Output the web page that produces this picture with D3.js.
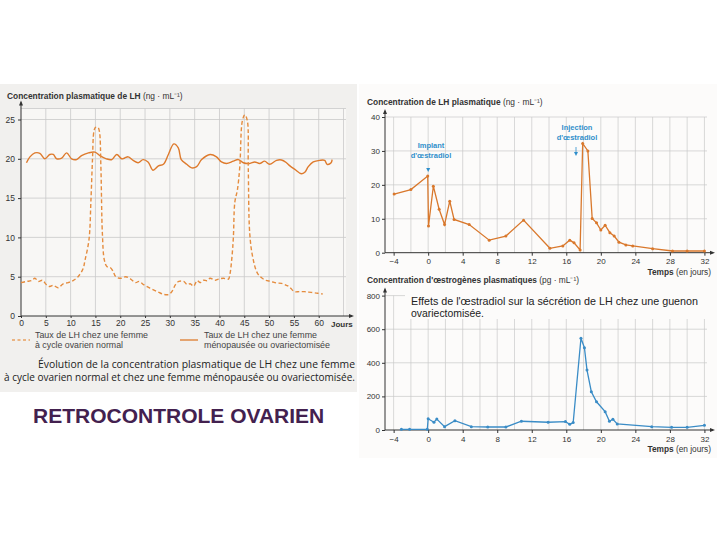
<!DOCTYPE html>
<html><head><meta charset="utf-8">
<script src="https://cdn.jsdelivr.net/npm/d3@7/dist/d3.min.js"></script>
<style>body{margin:0;background:#fff}svg{display:block}</style>
</head><body>
<svg id="c" width="720" height="540"></svg>
<script>
// ---------- DATA ----------
// Left chart: LH (ng/mL) in a woman with a normal ovarian cycle (dashed)
const cycleDays = [0,1.1,2.1,2.8,3.5,4.3,5.1,5.8,6.5,7.5,8.5,9.5,10.5,11.5,12.5,12.9,13.7,14.1,14.4,14.7,15.0,15.5,15.8,16.1,16.4,16.8,17.3,17.9,18.5,19.1,20.1,21.1,22.1,23.1,23.8,24.8,25.8,26.8,27.8,28.8,29.8,30.5,31.1,31.8,32.8,33.5,34.1,34.8,35.5,36.1,36.8,37.5,38.1,39.1,39.8,40.8,41.8,42.1,42.5,42.8,43.1,43.6,44.1,44.6,45.1,45.6,45.8,46.1,46.7,47.7,49.1,50.4,51.5,52.5,53.5,54.1,55.1,56.1,57.1,58.5,59.8,60.8];
const cycleLH   = [4.25,4.4,4.5,4.8,4.4,4.55,4.0,3.75,3.9,3.6,4.1,4.25,4.5,5.0,6.0,7.1,9.7,14.8,19.8,23.5,24.0,24.0,23.5,19.0,10.5,7.1,6.3,6.2,5.75,5.0,4.8,5.0,4.7,4.25,4.4,3.95,3.6,3.3,3.0,2.75,2.75,3.2,3.95,4.4,4.4,4.0,4.1,3.8,4.5,4.25,4.55,4.5,4.8,4.55,4.7,4.8,4.7,5.3,7.4,10.0,14.5,16.0,19.0,24.8,25.6,24.9,19.0,10.5,7.5,5.4,4.6,4.4,4.2,4.15,3.9,3.7,3.1,3.1,3.1,3.0,2.9,2.8];
// Left chart: LH (ng/mL) in a menopausal / ovariectomised woman (solid)
const menoDays = [1.1,1.8,2.8,3.8,4.8,5.8,6.5,7.2,8.2,9.2,10.2,11.2,12.2,13.6,14.9,15.9,17.2,18.3,19.3,20.3,20.9,21.6,22.6,23.6,24.6,25.6,26.6,27.7,28.7,29.7,30.8,31.7,32.3,33.4,34.4,35.4,36.4,38.1,39.4,40.4,41.4,42.8,43.8,44.8,46.1,47.1,48.1,49.1,50.1,51.5,52.5,53.5,54.2,55.2,56.5,57.2,57.9,58.9,60.2,61.2,61.7,62.5,62.7];
const menoLH   = [19.5,20.25,20.75,20.7,20.0,20.55,20.55,20.0,20.1,20.75,20.0,19.9,20.4,20.75,20.85,20.4,20.0,19.9,20.55,20.0,20.1,20.25,19.8,19.5,19.9,19.6,18.55,19.1,19.3,20.55,21.9,21.4,19.9,19.3,18.85,19.0,19.9,20.55,20.25,19.6,19.4,19.7,19.9,19.5,19.4,19.6,19.4,19.7,19.3,19.8,19.85,19.5,19.1,18.65,18.1,18.3,19.0,19.6,19.8,19.8,19.3,19.5,19.9];
const leftXTicks = [0,5,10,15,20,25,30,35,40,45,50,55,60];
const leftYTicks = [0,5,10,15,20,25];

// Right top: LH (ng/mL) in an ovariectomised female monkey
const monkeyDays = [-3.94,-2,-0.05,0.04,0.6,1.27,1.9,2.5,3.0,4.75,7.07,9.0,11.05,14.1,15.6,16.4,16.9,17.6,17.9,18.5,19.0,19.5,20.0,20.5,21.05,21.55,22.1,22.9,23.7,26.0,28.3,30.0,32.0];
const monkeyLH   = [17.3,18.6,22.6,7.9,19.6,12.8,8.3,15.2,9.8,8.3,3.7,4.9,9.6,1.3,2.0,3.7,2.9,0.8,32.2,30.0,10.1,8.8,6.7,8.1,5.9,4.9,3.1,2.3,2.0,1.2,0.5,0.5,0.5];
// Right bottom: plasma oestrogens (pg/mL)
const estroDays   = [-3.1,-2.15,-0.1,0.0,0.67,1.0,1.9,3.1,5.0,6.9,9.0,10.8,13.9,15.9,16.4,16.8,17.7,18.1,18.4,18.9,19.5,20.5,21.0,21.4,21.9,25.9,28.2,30.0,32.0];
const estroValues = [4,4,4,67,46,65,20,55,20,18,18,52,46,50,34,44,546,490,357,228,168,109,52,64,36,20,16,16,28];
const rightXTicks = [-4,0,4,8,12,16,20,24,28,32];
const lhYTicks = [0,10,20,30,40];
const estroYTicks = [0,200,400,600,800];

// ---------- DRAWING ----------
const svg = d3.select('#c');
const FONT = "'Liberation Sans', Arial, sans-serif";
const BODY = "'Open Sans', 'Noto Sans', sans-serif";
const GRID = '#c9c9c9';
const AX = '#333';

// page backgrounds (scanned panels)
svg.append('rect').attr('x',0).attr('y',84).attr('width',357).attr('height',308).attr('fill','#f1f0ee');
svg.append('rect').attr('x',359).attr('y',84).attr('width',358).attr('height',374).attr('fill','#fcfbfa');

function arrowUp(g, x, y){ g.append('path').attr('d',`M${x-2},${y+5}L${x},${y}L${x+2},${y+5}Z`).attr('fill',AX); }
function arrowRight(g, x, y){ g.append('path').attr('d',`M${x-5},${y-2}L${x},${y}L${x-5},${y+2}Z`).attr('fill',AX); }

// ===== LEFT CHART =====
{
  const g = svg.append('g');
  const x = d3.scaleLinear().domain([0,65.5]).range([21,346]);
  const y = d3.scaleLinear().domain([0,26.4]).range([316,108.5]);
  g.append('rect').attr('x',x(0)).attr('y',y(26.4)).attr('width',x(65.5)-x(0)).attr('height',y(0)-y(26.4)).attr('fill','#f8f7f5');
  // grid
  g.selectAll('.vg').data(d3.range(5,66,5)).join('line')
    .attr('x1',d=>x(d)).attr('x2',d=>x(d)).attr('y1',y(0)).attr('y2',y(26.4)).attr('stroke',GRID).attr('stroke-width',0.8);
  g.selectAll('.hg').data([5,10,15,20,25,26.4]).join('line')
    .attr('x1',x(0)).attr('x2',x(65.5)).attr('y1',d=>y(d)).attr('y2',d=>y(d)).attr('stroke',GRID).attr('stroke-width',0.8);
  // axes
  const xa = g.append('g').attr('transform',`translate(0,${y(0)})`)
    .call(d3.axisBottom(x).tickValues(leftXTicks).tickSize(2).tickPadding(2));
  xa.select('.domain').attr('d',`M${x(0)},0H${x(65.5)+6}`).attr('stroke',AX);
  const ya = g.append('g').attr('transform',`translate(${x(0)},0)`)
    .call(d3.axisLeft(y).tickValues(leftYTicks).tickSize(3).tickPadding(3));
  ya.select('.domain').attr('d',`M0,${y(0)}V${y(26.4)-6}`).attr('stroke',AX);
  [xa,ya].forEach(a=>{a.selectAll('text').attr('font-family',FONT).attr('font-size',8.5).attr('fill','#333');a.selectAll('.tick line').attr('stroke',AX);});
  arrowUp(g, x(0), y(26.4)-8);
  arrowRight(g, x(65.5)+8, y(0));
  g.append('text').attr('x',x(65.5)-15).attr('y',y(0)+11).attr('font-family',FONT).attr('font-size',8).attr('font-weight','bold').attr('fill','#333').text('Jours');
  // title
  const t = g.append('text').attr('x',7).attr('y',98.5).attr('font-family',FONT).attr('font-size',8.4).attr('fill','#333');
  t.append('tspan').attr('font-weight','bold').text('Concentration plasmatique de LH');
  t.append('tspan').text(' (ng · mL⁻¹)');
  // series
  const normalData = cycleDays.map((d,i)=>[d,cycleLH[i]]);
  const menoData = menoDays.map((d,i)=>[d,menoLH[i]]);
  const line = d3.line().x(d=>x(d[0])).y(d=>y(d[1])).curve(d3.curveCatmullRom.alpha(0.5));
  g.append('path').attr('d',line(menoData)).attr('fill','none').attr('stroke','#de7a2c').attr('stroke-width',1.4);
  g.append('path').attr('d',line(normalData)).attr('fill','none').attr('stroke','#e58c3e').attr('stroke-width',1.4).attr('stroke-dasharray','4,2.5');
  // legend
  g.append('line').attr('x1',12).attr('x2',30).attr('y1',340).attr('y2',340).attr('stroke','#e8a060').attr('stroke-width',1.3).attr('stroke-dasharray','3,2.5');
  g.append('line').attr('x1',180).attr('x2',198).attr('y1',340).attr('y2',340).attr('stroke','#de7a2c').attr('stroke-width',1.3);
  const lt = [[35,'Taux de LH chez une femme',113,'à cycle ovarien normal',88],[204,'Taux de LH chez une femme',113,'ménopausée ou ovariectomisée',126]];
  lt.forEach(([lx,a,wa,b,wb])=>{
    g.append('text').attr('x',lx).attr('y',338).attr('font-family',FONT).attr('font-size',8.2).attr('fill','#444')
      .attr('textLength',wa).attr('lengthAdjust','spacingAndGlyphs').text(a);
    g.append('text').attr('x',lx).attr('y',347.5).attr('font-family',FONT).attr('font-size',8.2).attr('fill','#444')
      .attr('textLength',wb).attr('lengthAdjust','spacingAndGlyphs').text(b);
  });
  g.append('text').attr('x',355).attr('y',368).attr('text-anchor','end').attr('font-family',BODY).attr('font-size',10.5).attr('fill','#222')
    .attr('textLength',317).attr('lengthAdjust','spacingAndGlyphs').text('Évolution de la concentration plasmatique de LH chez une femme');
  g.append('text').attr('x',355).attr('y',381).attr('text-anchor','end').attr('font-family',BODY).attr('font-size',10.5).attr('fill','#222')
    .attr('textLength',351).attr('lengthAdjust','spacingAndGlyphs').text('à cycle ovarien normal et chez une femme ménopausée ou ovariectomisée.');
}

svg.append('text').attr('x',33).attr('y',423).attr('font-family',"'Liberation Sans', Arial, sans-serif").attr('font-weight','bold')
  .attr('font-size',21).attr('fill','#43214f').text('RETROCONTROLE OVARIEN');

// ===== RIGHT CHARTS =====
const xr = d3.scaleLinear().domain([-5,32.3]).range([385,707]);
function rightChart(yScale, yTicks, top, days, vals, color, titleBold, titleUnit, titleY){
  const g = svg.append('g');
  const y0 = yScale.range()[0], y1 = yScale.range()[1];
  g.selectAll('.vg').data(d3.range(-4,33,2)).join('line')
    .attr('x1',d=>xr(d)).attr('x2',d=>xr(d)).attr('y1',y0).attr('y2',top).attr('stroke',GRID).attr('stroke-width',0.7);
  g.selectAll('.hg').data(yTicks.slice(1)).join('line')
    .attr('x1',xr(-5)).attr('x2',xr(32.3)).attr('y1',d=>yScale(d)).attr('y2',d=>yScale(d)).attr('stroke',GRID).attr('stroke-width',0.7);
  const xa = g.append('g').attr('transform',`translate(0,${y0})`)
    .call(d3.axisBottom(xr).tickValues(rightXTicks).tickFormat(d=>d<0?'−'+Math.abs(d):d).tickSize(3).tickPadding(3));
  xa.select('.domain').attr('d',`M${xr(-5)},0H${xr(32.3)+6}`).attr('stroke',AX);
  const ya = g.append('g').attr('transform',`translate(${xr(-5)},0)`)
    .call(d3.axisLeft(yScale).tickValues(yTicks).tickSize(3).tickPadding(2));
  ya.select('.domain').attr('d',`M0,${y0}V${y1-6}`).attr('stroke',AX);
  [xa,ya].forEach(a=>{a.selectAll('text').attr('font-family',FONT).attr('font-size',8).attr('fill','#333');a.selectAll('.tick line').attr('stroke',AX);});
  arrowUp(g, xr(-5), y1-8);
  arrowRight(g, xr(32.3)+8, y0);
  const tt = g.append('text').attr('x',711).attr('y',y0+22).attr('text-anchor','end').attr('font-family',FONT).attr('font-size',8.3).attr('fill','#333');
  tt.append('tspan').attr('font-weight','bold').text('Temps');
  tt.append('tspan').text(' (en jours)');
  const t = g.append('text').attr('x',367).attr('y',titleY).attr('font-family',FONT).attr('font-size',8.4).attr('fill','#333');
  t.append('tspan').attr('font-weight','bold').text(titleBold);
  t.append('tspan').text(titleUnit);
  const data = days.map((d,i)=>[d,vals[i]]);
  const line = d3.line().x(d=>xr(d[0])).y(d=>yScale(d[1]));
  g.append('path').attr('d',line(data)).attr('fill','none').attr('stroke',color).attr('stroke-width',1.3);
  g.selectAll('circle').data(data).join('circle').attr('cx',d=>xr(d[0])).attr('cy',d=>yScale(d[1])).attr('r',1.5).attr('fill',color);
  return g;
}
const yLH = d3.scaleLinear().domain([0,40]).range([252.7,117]);
rightChart(yLH, lhYTicks, 117, monkeyDays, monkeyLH, '#d9782c', 'Concentration de LH plasmatique', ' (ng · mL⁻¹)', 105);
const yE = d3.scaleLinear().domain([0,800]).range([430,295.6]);
rightChart(yE, estroYTicks, 295.6, estroDays, estroValues, '#3a8cc6', "Concentration d'œstrogènes plasmatiques", ' (pg · mL⁻¹)', 283);

// annotations
const blue = '#2f8fcb';
[[431,148,'Implant'],[431,157.5,"d'œstradiol"],[577,130,'Injection'],[577,139.5,"d'œstradiol"]].forEach(([ax,ay,s])=>{
  svg.append('text').attr('x',ax).attr('y',ay).attr('text-anchor','middle').attr('font-family',FONT).attr('font-weight','bold')
    .attr('font-size',7.5).attr('fill',blue).text(s);
});
svg.append('path').attr('d',`M${xr(0)-2},168L${xr(0)+2},168L${xr(0)},172Z`).attr('fill',blue);
svg.append('line').attr('x1',576).attr('x2',576).attr('y1',147).attr('y2',153).attr('stroke',blue).attr('stroke-width',0.8);
svg.append('path').attr('d','M574,152L578,152L576,156Z').attr('fill',blue);

// caption inside bottom chart
svg.append('rect').attr('x',405).attr('y',291).attr('width',302).attr('height',28).attr('fill','#fcfbfa');
svg.append('text').attr('x',411).attr('y',304.5).attr('font-family',FONT).attr('font-size',10.5).attr('fill','#222')
  .attr('textLength',287).attr('lengthAdjust','spacingAndGlyphs').text("Effets de l'œstradiol sur la sécrétion de LH chez une guenon");
svg.append('text').attr('x',411).attr('y',316.5).attr('font-family',FONT).attr('font-size',10.5).attr('fill','#222')
  .attr('textLength',73).attr('lengthAdjust','spacingAndGlyphs').text('ovariectomisée.');
</script>
</body></html>
